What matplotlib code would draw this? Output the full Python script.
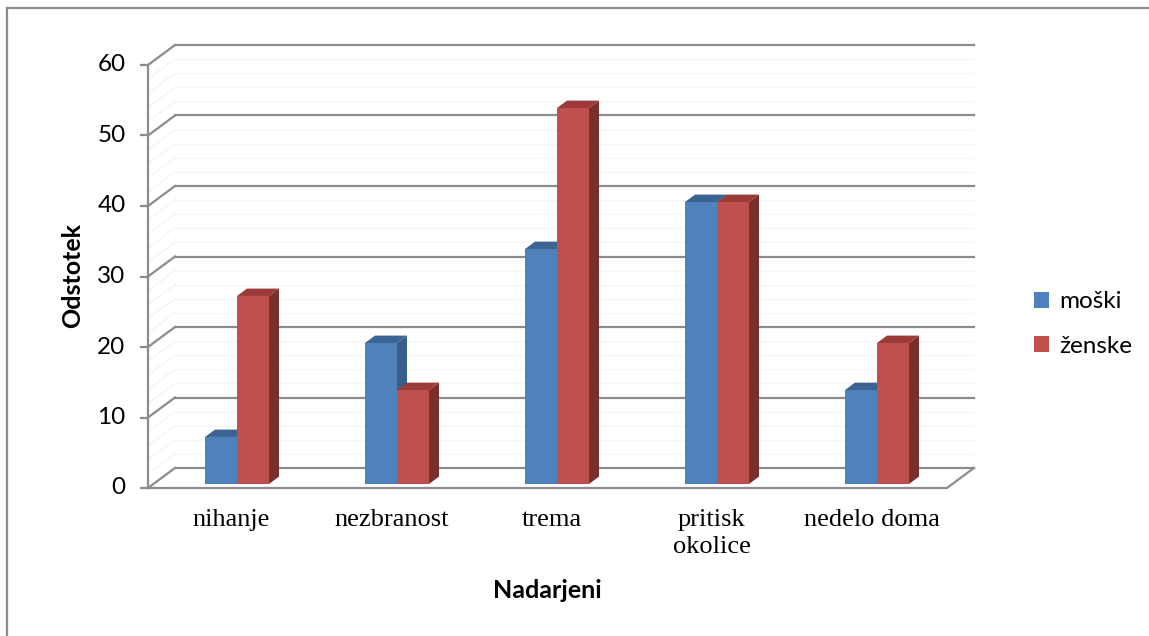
import numpy as np
import matplotlib
matplotlib.use("Agg")
import matplotlib.pyplot as plt
from matplotlib.patches import Polygon
from matplotlib.lines import Line2D

categories = ["nihanje", "nezbranost", "trema", "pritisk\nokolice", "nedelo doma"]
moski = [6.67, 20.0, 33.33, 40.0, 13.33]
zenske = [26.67, 13.33, 53.33, 40.0, 20.0]
series_names = ["moški", "ženske"]
yticks = [0, 10, 20, 30, 40, 50, 60]

W, H = 1149, 636
fig = plt.figure(figsize=(W / 100, H / 100), dpi=100)
ax = fig.add_axes([0, 0, 1, 1])
ax.set_axis_off()

# pixel mapping: 1 category = 160 px, 1 percent = 7.05 px
XPX, YPX = 160.0, 7.05
X_ORIG, Y_ORIG = 231.6, 488.0
ax.set_xlim(-X_ORIG / XPX, (W - X_ORIG) / XPX)
ax.set_ylim((Y_ORIG - H) / YPX, Y_ORIG / YPX)

# fake 3d depth (front plane -> back wall)
DX, DY = 27 / XPX, 20 / YPX
X0, X1 = -0.5225, 4.471
F0, FD = 0.2, 0.37          # bar front depth, bar thickness
BW = 0.2
grid_c = "#8c8c8c"
faint = "#f5f5f5"

# faint minor lines on back wall
for v in np.arange(2, 60, 2):
    if v % 10:
        ax.plot([X0 + DX, X1 + DX], [v + DY, v + DY], color=faint, lw=1, zorder=1)
        ax.plot([X0, X0 + DX], [v, v + DY], color=faint, lw=1, zorder=1)

# back wall major lines + side wall diagonals
for v in yticks:
    ax.plot([X0 + DX, X1 + DX], [v + DY, v + DY], color=grid_c, lw=1.6, zorder=2)
    ax.plot([X0, X0 + DX], [v, v + DY], color=grid_c, lw=1.6, zorder=2)
    ax.plot([X0 - 0.045, X0], [v, v], color=grid_c, lw=1.6, zorder=2)
    ax.text(X0 - 0.14, v, str(v), ha="right", va="center", fontsize=17.5,
            family="Lato", color="black")

# floor + front axis
ax.plot([X0, X1, X1 + DX], [0, 0, DY], color=grid_c, lw=1.6, zorder=2)
ax.plot([X0, X0], [0, 60], color=grid_c, lw=1.6, zorder=2)

cols = [("#4f81bd", "#385d8a", "#3c6493"), ("#c0504d", "#7b2f2d", "#9a3b38")]
x = np.arange(len(categories))
handles = []
for i in range(len(categories)):
    for s, vals in enumerate([moski, zenske]):
        front, side, top = cols[s]
        xl = x[i] - BW + s * BW + F0 * DX
        yb = F0 * DY
        v = vals[i]
        z = 3 + i * 4 + s * 2
        b = ax.bar(xl, v, width=BW, bottom=yb, align="edge", color=front,
                   zorder=z, label=series_names[s] if i == 0 else None)
        if i == 0:
            handles.append(b)
        xr = xl + BW
        ax.add_patch(Polygon([(xr, yb), (xr, yb + v), (xr + FD * DX, yb + v + FD * DY),
                              (xr + FD * DX, yb + FD * DY)], closed=True,
                             facecolor=side, edgecolor="none", zorder=z - 0.5))
        ax.add_patch(Polygon([(xl, yb + v), (xr, yb + v), (xr + FD * DX, yb + v + FD * DY),
                              (xl + FD * DX, yb + v + FD * DY)], closed=True,
                             facecolor=top, edgecolor="none", zorder=z - 0.5))

for i, c in enumerate(categories):
    ax.text(x[i], -3.0, c, ha="center", va="top", fontsize=19,
            family="Liberation Serif", linespacing=1.3)

fig.text(73 / W, 1 - 276 / H, "Odstotek", rotation=90, ha="center", va="center",
         fontsize=18, fontweight="bold", family="Lato")
fig.text(547 / W, 1 - 591 / H, "Nadarjeni", ha="center", va="center",
         fontsize=18, fontweight="bold", family="Lato")

leg = ax.legend(handles=[h[0] for h in handles], labels=series_names,
                loc="center left", bbox_to_anchor=(1034 / W, 1 - 324 / H),
                bbox_transform=fig.transFigure, frameon=False,
                prop={"family": "Lato", "size": 17.5}, handlelength=0.62,
                handleheight=0.62, handletextpad=0.4, labelspacing=0.95,
                borderpad=0, borderaxespad=0)

# outer chart frame
fig.add_artist(Line2D([6.5 / W, 6.5 / W], [0, 1 - 8 / H], color="#8c8c8c", lw=1.6,
                      transform=fig.transFigure))
fig.add_artist(Line2D([6.5 / W, 1], [1 - 8 / H, 1 - 8 / H], color="#8c8c8c", lw=1.6,
                      transform=fig.transFigure))

fig.savefig("out.png", dpi=100)
